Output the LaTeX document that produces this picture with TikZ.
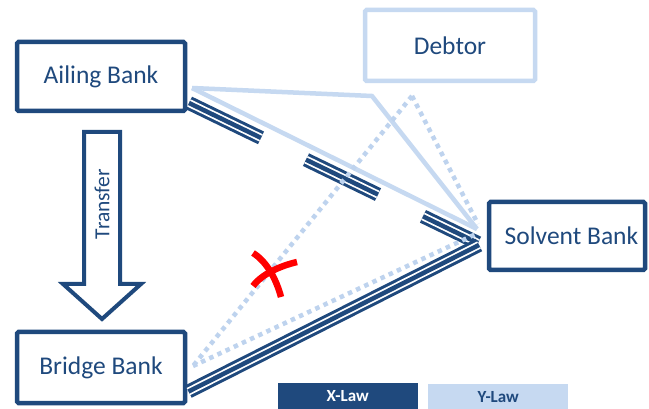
\documentclass[tikz,border=0pt]{standalone}
\usepackage{fontspec}
\setmainfont{Carlito}
\definecolor{dk}{HTML}{1F497D}
\definecolor{lt}{HTML}{C6D9F1}
\definecolor{ltdot}{HTML}{BED3EE}
\tikzset{
  box/.style={draw=dk, line width=4.5pt, rounded corners=1.5pt, text=dk, inner sep=0pt,
    font=\fontsize{25.5}{30}\selectfont},
  ybox/.style={box, draw=lt},
  tripleA/.style={draw=dk, line width=14pt, #1,
    postaction={draw=white, line width=8pt, #1},
    postaction={draw=dk, line width=4.5pt, #1}},
  tripleA/.default={solid},
  ysolid/.style={draw=lt, line width=4.5pt, line join=miter},
  ydot/.style={draw=ltdot, line width=4.5pt, dash pattern=on 4.5pt off 4.5pt},
  redx/.style={draw=red, line width=6.5pt},
  legend/.style={inner sep=0pt, minimum width=140pt, minimum height=30pt, anchor=north west,
    font=\fontsize{17}{19}\bfseries\selectfont}
}
\begin{document}
\begin{tikzpicture}[x=1pt,y=-1pt]
\clip (0,0) rectangle (649,409);
\fill[white] (0,0) rectangle (649,409);

% boxes
\node[box, minimum width=168pt, minimum height=69pt] (ailing) at (101,76.5) {Ailing Bank};
\node[box, minimum width=168pt, minimum height=71pt] (bridge) at (101,367.5) {Bridge Bank};
\node[box, minimum width=156pt, minimum height=68pt] (solvent) at (567,236) {\hspace{9pt}Solvent Bank};
\node[ybox, minimum width=170pt, minimum height=71pt] (debtor) at (450,45.5) {Debtor};

% connector end points
\coordinate (a1) at (192,88);
\coordinate (a2) at (189,103);
\coordinate (bend) at (372,96);
\coordinate (s1) at (477,229);
\coordinate (s2) at (478,243);
\coordinate (s3) at (479,245);
\coordinate (s4) at (476,234);
\coordinate (s5) at (478,224);
\coordinate (d1) at (412,96);
\coordinate (b1) at (188.5,391.5);
\coordinate (b2) at (193,366);

% X-Law connectors
\draw[tripleA={dash pattern=on 80pt off 50pt}] (a2) -- (s2);
\draw[tripleA] (b1) -- (s3);

% Y-Law connectors
\draw[ysolid] (a1) -- (s1);
\draw[ysolid] (a1) -- (bend) -- (s1);
\draw[ydot] (d1) -- (b2);
\draw[ydot] (d1) -- (s5);
\draw[ydot] (b2) -- (s4);

% transfer arrow
\draw[dk, line width=4pt, line join=miter]
  (84,132) -- (120,132) -- (120,284) -- (141,284) -- (102,319) -- (63,284) -- (84,284) -- cycle;
\node[rotate=90, text=dk, font=\fontsize{21.5}{24}\selectfont, inner sep=0pt] (transfer) at (102,204) {Transfer};

% red cross
\draw[redx] (253,253) .. controls (266,261) and (276,278) .. (281,297);
\draw[redx] (297,262) .. controls (280,266) and (262,274) .. (253,286);

% legend
\node[legend, fill=dk, text=white] (xlaw) at (277.5,383) {\raisebox{5pt}{X-Law}};
\node[legend, fill=lt, text=dk] (ylaw) at (428,384) {\raisebox{5pt}{Y-Law}};
\end{tikzpicture}
\end{document}
